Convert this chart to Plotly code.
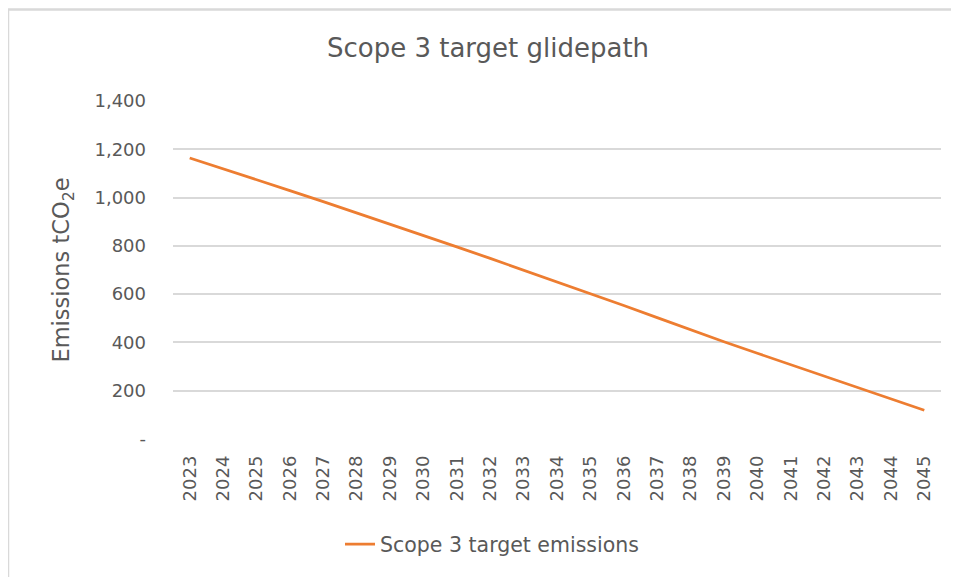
import plotly.graph_objects as go

years = [str(y) for y in range(2023, 2046)]
emissions = [1164, 1120, 1076, 1029, 983, 937, 890, 843, 796, 748, 700, 651,
             602, 553, 503, 452, 403, 355, 308, 261, 213, 166, 119]
series_name = "Scope 3 target emissions"
title_text = "Scope 3 target glidepath"
y_tickvals = [0, 200, 400, 600, 800, 1000, 1200, 1400]
y_ticktext = ["-", "200", "400", "600", "800", "1,000", "1,200", "1,400"]

# page body has an 8px margin, so the figure is drawn offset by 8px
OFF = 8
W, H = 959 - OFF, 577 - OFF
L, T = 173 - OFF, 101 - OFF
R = W - (941 - OFF)
B = H - (441 - OFF)
pw, ph = W - L - R, H - T - B

FONT = "DejaVu Sans, Verdana, sans-serif"
GRAY = "#595959"

fig = go.Figure()
fig.add_trace(go.Scatter(
    x=years, y=emissions, mode="lines", name=series_name,
    line=dict(color="#ED7D31", width=2.8),
))

def px_x(p):
    return (p - OFF - L) / pw

def px_y(p):
    return (H - B - (p - OFF)) / ph

fig.update_layout(
    width=W, height=H,
    margin=dict(l=L, r=R, t=T, b=B),
    paper_bgcolor="white", plot_bgcolor="white",
    title=dict(text=title_text, x=(488 - OFF) / W, xanchor="center",
               y=1 - (48 - OFF) / H, yanchor="middle",
               font=dict(family=FONT, size=26, color=GRAY)),
    showlegend=True,
    legend=dict(orientation="h", x=px_x(492), xanchor="center", y=px_y(547), yanchor="middle",
                font=dict(family=FONT, size=20.5, color=GRAY), bgcolor="rgba(0,0,0,0)"),
    xaxis=dict(type="category", range=[-0.5, 22.5], showgrid=False, zeroline=False,
               showline=False, ticks="", tickangle=-90,
               tickfont=dict(family=FONT, size=18, color=GRAY),
               ticklabelstandoff=12),
    yaxis=dict(range=[0, 1400], tickvals=y_tickvals, ticktext=y_ticktext,
               showgrid=True, gridcolor="#D9D9D9", gridwidth=1.5, zeroline=False,
               showline=False, ticks="",
               tickfont=dict(family=FONT, size=18, color=GRAY),
               ticklabelstandoff=26,
               title=dict(text="Emissions tCO<sub>2</sub>e", standoff=18,
                          font=dict(family=FONT, size=22.5, color=GRAY))),
    shapes=[dict(type="rect", xref="paper", yref="paper",
                 x0=px_x(8), x1=px_x(1000), y0=px_y(640), y1=px_y(9),
                 line=dict(color="#D9D9D9", width=2.5), fillcolor="rgba(0,0,0,0)", layer="below")],
)

fig.write_html("out.html")
